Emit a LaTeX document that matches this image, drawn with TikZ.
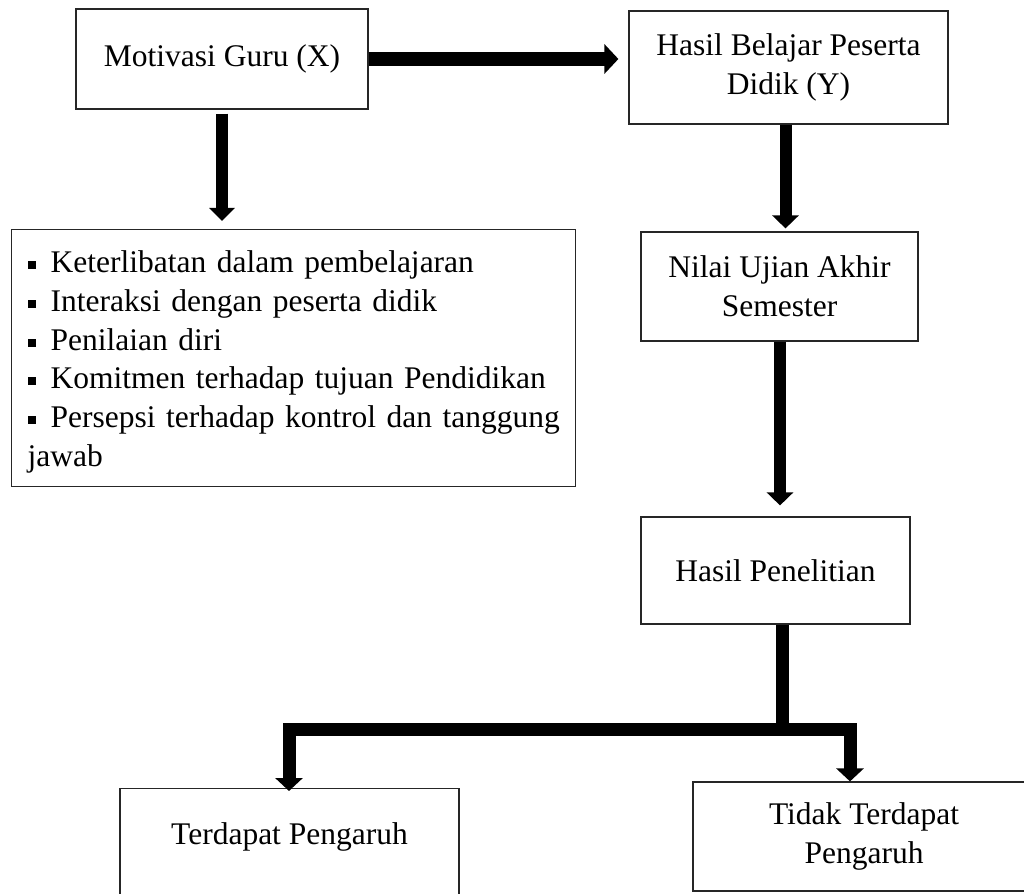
\documentclass[tikz,border=0pt]{standalone}
\usepackage{fontspec}
\setmainfont{Liberation Serif}
\usetikzlibrary{arrows.meta}
\newcommand{\sqbul}{\makebox[23pt][l]{\raisebox{3.5pt}{\rule{8pt}{8pt}}}}
\begin{document}
\begin{tikzpicture}[x=1pt,y=-1pt,
  box/.style={draw=black!85, line width=1.2pt, inner sep=0pt, align=center,
    font=\fontsize{31.5}{38.7}\selectfont},
  fat/.style={draw=black, line width=13pt},
  fattip/.style={-{Triangle[width=27pt,length=13pt]}}]
\useasboundingbox (0,0) rectangle (1024,893);

\node[box, minimum width=292, minimum height=100] (mot) at (222,59) {\raisebox{-3pt}{Motivasi Guru (X)}};
\node[box, minimum width=319, minimum height=113] (hb) at (788.5,67.5) {Hasil Belajar Peserta\\Didik (Y)};
\node[box, minimum width=564, minimum height=257, anchor=north west, text width=532, align=left] (list) at (11,229)
 {\rule{0pt}{29.7pt}\mbox{\sqbul Keterlibatan dalam pembelajaran}\\
  \mbox{\sqbul Interaksi dengan peserta didik}\\
  \mbox{\sqbul Penilaian diri}\\
  \mbox{\sqbul Komitmen terhadap tujuan Pendidikan}\\
  \mbox{\sqbul Persepsi terhadap kontrol dan tanggung}\\
  \mbox{jawab}};
\node[box, minimum width=277, minimum height=109] (nu) at (779.5,286.5) {Nilai Ujian Akhir\\Semester};
\node[box, minimum width=269, minimum height=107] (hp) at (775.5,570.5) {Hasil Penelitian};
\node[box, minimum width=339, minimum height=112, anchor=north] (tp) at (289.5,788) {\smash{Terdapat Pengaruh}};
\node[box, minimum width=342, minimum height=109] (tr) at (864,836.5) {Tidak Terdapat\\Pengaruh};

\draw[fat, line width=14pt, -{Triangle[width=29pt,length=14pt]}]
  (mot.east) -- ([xshift=-10pt]mot.east -| hb.west);
\draw[fat, line width=12pt, -{Triangle[width=25pt,length=13pt]}]
  ([yshift=-4pt]mot.south) -- ([yshift=8pt]mot.south |- list.north);
\draw[fat, line width=12pt, -{Triangle[width=26pt,length=13pt]}]
  ([xshift=-3pt]hb.south) -- ([xshift=-3pt,yshift=3pt]hb.south |- nu.north);
\draw[fat, line width=12pt, -{Triangle[width=26pt,length=13pt]}]
  ([xshift=0.5pt]nu.south) -- ([xshift=0.5pt,yshift=11pt]nu.south |- hp.north);

\coordinate (j) at (782,729.5);
\draw[fat] ([xshift=6.5pt]hp.south) -- (j);
\draw[fat, fattip] (j) -| ([xshift=-0.5pt,yshift=-3pt]tp.north);
\draw[fat, fattip] (j) -| ([xshift=-14pt]tr.north);
\end{tikzpicture}
\end{document}
